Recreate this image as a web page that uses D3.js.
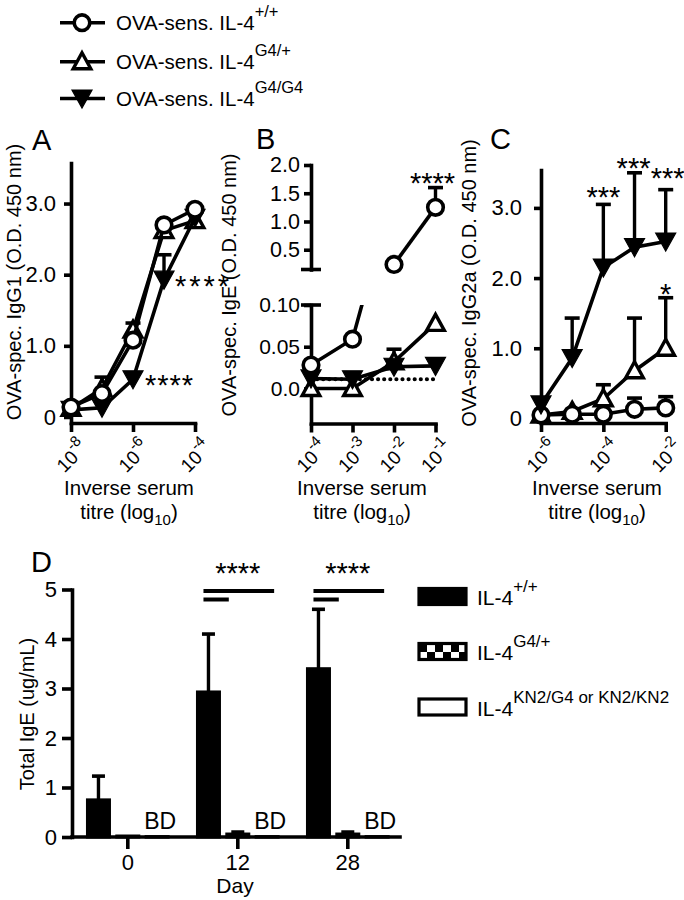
<!DOCTYPE html>
<html><head><meta charset="utf-8">
<script src="https://cdn.jsdelivr.net/npm/d3@7"></script>
<style>body{margin:0;background:#fff}svg{display:block}</style>
</head><body>
<script>
// ---------------- DATA ----------------
const genotypes = ["+/+", "G4/+", "G4/G4"];
const markerTypes = ["circle", "up", "down"];

// Panel A: OVA-specific IgG1, inverse serum titre exponents
const titreA = [-8, -7, -6, -5, -4];
const ticksA = [-8, -6, -4];
const igg1_WT = [0.14, 0.33, 1.08, 2.70, 2.92];
const igg1_WT_err = [null, null, null, null, null];
const igg1_Het = [0.12, 0.40, 1.22, 2.62, 2.76];
const igg1_Het_err = [null, 0.56, 1.32, null, null];
const igg1_Hom = [0.10, 0.13, 0.53, 1.93, 2.80];
const igg1_Hom_err = [null, null, null, 2.28, null];

// Panel B: OVA-specific IgE (broken axis)
const titreB = [-4, -3, -2, -1];
const ticksB = [-4, -3, -2, -1];
const ige_WT = [0.028, 0.059, 0.24, 1.25];
const ige_WT_err = [null, null, null, 1.60];
const ige_Het = [0.0, 0.0, 0.032, 0.078];
const ige_Het_err = [null, null, 0.047, null];
const ige_Hom = [0.012, 0.011, 0.026, 0.027];
const ige_Hom_err = [null, null, null, null];
const ige_background = 0.011;
const ticksBLow = [0, 0.05, 0.10];
const ticksBHigh = [0.5, 1.0, 1.5, 2.0];

// Panel C: OVA-specific IgG2a
const titreC = [-6, -5, -4, -3, -2];
const ticksC = [-6, -4, -2];
const igg2a_WT = [0.05, 0.06, 0.06, 0.13, 0.15];
const igg2a_WT_err = [null, null, null, 0.29, 0.31];
const igg2a_Het = [0.05, 0.10, 0.28, 0.68, 1.00];
const igg2a_Het_err = [null, null, 0.48, 1.43, 1.72];
const igg2a_Hom = [0.20, 0.86, 2.15, 2.44, 2.52];
const igg2a_Hom_err = [null, 1.43, 3.05, 3.50, 3.26];

// Panel D: total IgE
const days = ["0", "12", "28"];
const dSeries = ["+/+", "G4/+", "KN2"];
const dLegendSup = ["+/+", "G4/+", "KN2/G4 or KN2/KN2"];
const totalIgE_WT = [0.75, 2.93, 3.40];
const totalIgE_WT_err = [1.23, 4.10, 4.60];
const totalIgE_Het = [0.02, 0.06, 0.06];
const totalIgE_Het_err = [null, 0.10, 0.10];
const totalIgE_KO = [0.008, 0.008, 0.008];
const ticksD = [0, 1, 2, 3, 4, 5];

// ---------------- DRAWING ----------------
const W = 684, H = 900, SW = 3.6;
const FONT = '"Liberation Sans", Arial, Helvetica, sans-serif';
const svg = d3.select("body").append("svg").attr("width", W).attr("height", H)
  .attr("font-family", FONT).attr("fill", "#000");
svg.append("rect").attr("width", W).attr("height", H).attr("fill", "#fff");
const defs = svg.append("defs");

function drawMarker(g, type, x, y) {
  if (type === "circle") {
    g.append("circle").attr("cx", x).attr("cy", y).attr("r", 7.8)
      .attr("fill", "#fff").attr("stroke", "#000").attr("stroke-width", 3.6);
  } else if (type === "up") {
    g.append("path").attr("d", "M0,-9L8.8,7L-8.8,7Z")
      .attr("transform", `translate(${x},${y})`)
      .attr("fill", "#fff").attr("stroke", "#000").attr("stroke-width", 3.4);
  } else {
    g.append("path").attr("d", "M-10,-8.5L10,-8.5L0,9.5Z")
      .attr("transform", `translate(${x},${y})`)
      .attr("fill", "#000").attr("stroke", "#000").attr("stroke-width", 1.2);
  }
}

function drawSeries(g, xs, ys, errs, type, xS, yS, opt = {}) {
  const pts = xs.map((v, i) => ({ x: v, y: ys[i], e: errs ? errs[i] : null }));
  const show = opt.show || (() => true);
  const lp = opt.lineFilter ? pts.filter(opt.lineFilter) : pts;
  const lg = g.append("g");
  if (opt.clip) lg.attr("clip-path", `url(#${opt.clip})`);
  lg.append("path").datum(lp)
    .attr("d", d3.line().x(d => xS(d.x)).y(d => yS(d.y)))
    .attr("fill", "none").attr("stroke", "#000").attr("stroke-width", SW);
  pts.filter(d => d.e != null && show(d)).forEach(d => {
    g.append("line").attr("x1", xS(d.x)).attr("x2", xS(d.x))
      .attr("y1", yS(d.y)).attr("y2", yS(d.e)).attr("stroke", "#000").attr("stroke-width", 3.4);
    g.append("line").attr("x1", xS(d.x) - 7.5).attr("x2", xS(d.x) + 7.5)
      .attr("y1", yS(d.e)).attr("y2", yS(d.e)).attr("stroke", "#000").attr("stroke-width", 3.6);
  });
  pts.filter(show).forEach(d => drawMarker(g, type, xS(d.x), yS(d.y)));
}

function styleAxis(g, fs) {
  g.selectAll("path.domain").attr("stroke", "#000").attr("stroke-width", SW).attr("stroke-linecap", "square");
  g.selectAll(".tick line").attr("stroke", "#000").attr("stroke-width", SW);
  g.selectAll("text").attr("font-size", fs).attr("font-family", FONT).attr("fill", "#000");
}

function expLabels(g, xS, ticks, y0) {
  ticks.forEach(t => {
    const txt = g.append("g").attr("transform", `translate(${xS(t) + 18},${y0}) rotate(-45)`)
      .append("text").attr("text-anchor", "end").attr("font-size", 19);
    txt.append("tspan").text("10");
    txt.append("tspan").attr("font-size", 15).attr("dy", -10).text(String(t));
  });
}

function xTitle(cx) {
  svg.append("text").attr("x", cx).attr("y", 495).attr("text-anchor", "middle")
    .attr("font-size", 20.5).text("Inverse serum");
  const t = svg.append("text").attr("x", cx).attr("y", 519).attr("text-anchor", "middle").attr("font-size", 20.5);
  t.append("tspan").text("titre (log");
  t.append("tspan").attr("font-size", 15).attr("dy", 6).text("10");
  t.append("tspan").attr("dy", -6).text(")");
}

function yTitle(x, cy, label) {
  svg.append("text").attr("transform", `translate(${x},${cy}) rotate(-90)`)
    .attr("text-anchor", "middle").attr("font-size", 20).text(label);
}

function stars(x, y, s, anchor, ls) {
  svg.append("text").attr("x", x).attr("y", y).attr("text-anchor", anchor || "middle")
    .attr("font-size", 29).attr("letter-spacing", ls || 0).text(s);
}

// ---- Top legend ----
const legY = [22.7, 61.7, 98.5];
genotypes.forEach((s, i) => {
  const g = svg.append("g").attr("transform", `translate(0,${legY[i]})`);
  g.append("line").attr("x1", 60).attr("x2", 105).attr("y1", 0).attr("y2", 0)
    .attr("stroke", "#000").attr("stroke-width", SW);
  drawMarker(g, markerTypes[i], 82, 0);
  const t = g.append("text").attr("x", 116).attr("y", 7.5).attr("font-size", 20.5);
  t.append("tspan").text("OVA-sens. IL-4");
  t.append("tspan").attr("font-size", 16.5).attr("dy", -13).text(s);
});

// panel letters
[["A", 32, 150], ["B", 256, 149], ["C", 490, 149], ["D", 31, 572]].forEach(([l, x, y]) =>
  svg.append("text").attr("x", x).attr("y", y).attr("font-size", 29).text(l));

// ---- Panel A ----
{
  const x = d3.scaleLinear().domain([-8, -4]).range([71, 195]);
  const y = d3.scaleLinear().domain([-0.085, 3.57]).range([423, 163]);
  const g = svg.append("g");
  const ya = g.append("g").attr("transform", "translate(71,0)")
    .call(d3.axisLeft(y).tickValues([0, 1, 2, 3]).tickFormat(d => d === 0 ? "0" : d.toFixed(1))
      .tickSize(7).tickPadding(8).tickSizeOuter(0));
  styleAxis(ya, 22);
  const xa = g.append("g").attr("transform", "translate(0,423)")
    .call(d3.axisBottom(x).tickValues(ticksA).tickFormat("").tickSize(9).tickSizeOuter(0));
  styleAxis(xa, 18);
  expLabels(g, x, ticksA, 449);
  drawSeries(g, titreA, igg1_Het, igg1_Het_err, "up", x, y);
  drawSeries(g, titreA, igg1_Hom, igg1_Hom_err, "down", x, y);
  drawSeries(g, titreA, igg1_WT, igg1_WT_err, "circle", x, y);
  stars(x(-5) + 11, y(igg1_Hom[3]) + 16, "****", "start", 3);
  stars(x(-6) + 12, y(igg1_Hom[2]) + 16, "****", "start", 1);
  yTitle(21, 282, "OVA-spec. IgG1 (O.D. 450 nm)");
  xTitle(129);
}

// ---- Panel B ----
{
  const x = d3.scaleLinear().domain([-4, -1]).range([311, 435.5]);
  const yLo = d3.scaleLinear().domain([-0.042, 0.10]).range([423.5, 305]);
  const yHi = d3.scaleLinear().domain([0.15, 2.0]).range([269.5, 165]);
  const g = svg.append("g");
  defs.append("clipPath").attr("id", "clipBlo").append("rect")
    .attr("x", 280).attr("y", 305).attr("width", 180).attr("height", 130);
  const yl = g.append("g").attr("transform", "translate(311,0)")
    .call(d3.axisLeft(yLo).tickValues(ticksBLow).tickFormat(d => d === 0 ? "0.0" : d.toFixed(2))
      .tickSize(7).tickPadding(4).tickSizeOuter(0));
  styleAxis(yl, 21);
  const yh = g.append("g").attr("transform", "translate(311,0)")
    .call(d3.axisLeft(yHi).tickValues(ticksBHigh).tickFormat(d3.format(".1f"))
      .tickSize(7).tickPadding(4).tickSizeOuter(0));
  styleAxis(yh, 21.5);
  [yLo(0.10), yHi(0.15)].forEach(yy =>
    g.append("line").attr("x1", 301).attr("x2", 321).attr("y1", yy).attr("y2", yy)
      .attr("stroke", "#000").attr("stroke-width", SW));
  const xa = g.append("g").attr("transform", "translate(0,423.5)")
    .call(d3.axisBottom(x).tickValues(ticksB).tickFormat("").tickSize(9).tickSizeOuter(0));
  styleAxis(xa, 18);
  expLabels(g, x, ticksB, 449);
  g.append("path").datum([titreB[0], titreB[titreB.length - 1]])
    .attr("d", d3.line().x(d => x(d)).y(() => yLo(ige_background)))
    .attr("stroke", "#000").attr("stroke-width", 4.2).attr("stroke-linecap", "round")
    .attr("stroke-dasharray", "0,6.1").attr("fill", "none");
  const lo = { clip: "clipBlo", show: d => d.y <= 0.10 };
  drawSeries(g, titreB, ige_Het, ige_Het_err, "up", x, yLo, lo);
  drawSeries(g, titreB, ige_Hom, ige_Hom_err, "down", x, yLo, lo);
  drawSeries(g, titreB, ige_WT, ige_WT_err, "circle", x, yLo, lo);
  drawSeries(g, titreB, ige_WT, ige_WT_err, "circle", x, yHi,
    { show: d => d.y >= 0.15, lineFilter: d => d.y >= 0.15 });
  stars(x(-1) - 3, yHi(ige_WT_err[3]) + 5, "****");
  yTitle(236, 285, "OVA-spec. IgE (O.D. 450 nm)");
  xTitle(362);
}

// ---- Panel C ----
{
  const x = d3.scaleLinear().domain([-6, -2]).range([541, 665.7]);
  const y = d3.scaleLinear().domain([-0.065, 3.54]).range([423, 170]);
  const g = svg.append("g");
  const ya = g.append("g").attr("transform", "translate(541,0)")
    .call(d3.axisLeft(y).tickValues([0, 1, 2, 3]).tickFormat(d => d === 0 ? "0" : d.toFixed(1))
      .tickSize(7).tickPadding(12).tickSizeOuter(0));
  styleAxis(ya, 22);
  const xa = g.append("g").attr("transform", "translate(0,423)")
    .call(d3.axisBottom(x).tickValues(ticksC).tickFormat("").tickSize(9).tickSizeOuter(0));
  styleAxis(xa, 18);
  expLabels(g, x, ticksC, 449);
  drawSeries(g, titreC, igg2a_Het, igg2a_Het_err, "up", x, y);
  drawSeries(g, titreC, igg2a_WT, igg2a_WT_err, "circle", x, y);
  drawSeries(g, titreC, igg2a_Hom, igg2a_Hom_err, "down", x, y);
  stars(x(-4), y(igg2a_Hom_err[2]) + 3, "***");
  stars(x(-3) - 1, y(igg2a_Hom_err[3]) + 5, "***");
  stars(x(-2) + 2, y(igg2a_Hom_err[4]) - 2, "***");
  stars(x(-2), y(igg2a_Het_err[4]) + 6, "*");
  yTitle(476, 283, "OVA-spec. IgG2a (O.D. 450 nm)");
  xTitle(597);
}

// ---- Panel D ----
{
  const x0 = d3.scaleBand().domain(days).range([72.8, 402.8]);
  const x1 = d3.scaleBand().domain(dSeries).range([0, x0.bandwidth()]).paddingInner(0.25).paddingOuter(0.5);
  const y = d3.scaleLinear().domain([0, 5]).range([837, 589.5]);
  const g = svg.append("g");
  const pat = defs.append("pattern").attr("id", "checker").attr("patternUnits", "userSpaceOnUse")
    .attr("width", 14).attr("height", 14).attr("x", 420).attr("y", 590);
  pat.append("rect").attr("width", 14).attr("height", 14).attr("fill", "#000");
  pat.append("rect").attr("x", 7).attr("y", 0).attr("width", 7).attr("height", 7).attr("fill", "#fff");
  pat.append("rect").attr("x", 0).attr("y", 7).attr("width", 7).attr("height", 7).attr("fill", "#fff");

  const fills = ["#000", "url(#checker)", "#fff"];
  const vals = [totalIgE_WT, totalIgE_Het, totalIgE_KO];
  const errs = [totalIgE_WT_err, totalIgE_Het_err, [null, null, null]];
  dSeries.forEach((s, si) => {
    days.forEach((d, di) => {
      const v = vals[si][di];
      const cx = x0(d) + x1(s) + x1.bandwidth() / 2;
      const e = errs[si][di];
      if (e != null) {
        g.append("line").attr("x1", cx).attr("x2", cx).attr("y1", y(v)).attr("y2", y(e))
          .attr("stroke", "#000").attr("stroke-width", 3.4);
        g.append("line").attr("x1", cx - 6.5).attr("x2", cx + 6.5).attr("y1", y(e)).attr("y2", y(e))
          .attr("stroke", "#000").attr("stroke-width", 3.6);
      }
      g.append("rect").attr("x", x0(d) + x1(s)).attr("width", x1.bandwidth())
        .attr("y", y(v)).attr("height", Math.max(0.5, y(0) - y(v)))
        .attr("fill", fills[si]).attr("stroke", "#000").attr("stroke-width", 3);
    });
  });
  days.forEach(d => {
    g.append("text").attr("x", x0(d) + x1("KN2") + x1.bandwidth() / 2 + 3).attr("y", 829)
      .attr("text-anchor", "middle").attr("font-size", 23).text("BD");
  });
  const ya = g.append("g").attr("transform", "translate(72,0)")
    .call(d3.axisLeft(y).tickValues(ticksD).tickFormat(d3.format("d")).tickSize(10).tickPadding(5).tickSizeOuter(0));
  styleAxis(ya, 22);
  const xa = g.append("g").attr("transform", "translate(0,837)")
    .call(d3.axisBottom(x0).tickSize(12).tickPadding(5).tickSizeOuter(0));
  styleAxis(xa, 22);
  xa.select("path.domain").attr("d", `M72,0H400`);
  ["12", "28"].forEach(d => {
    const xs = x0(d) + x1("+/+") + 6;
    const xe1 = x0(d) + x1("KN2") + x1.bandwidth() - 4;
    const xe2 = x0(d) + x1("G4/+") + 2;
    g.append("line").attr("x1", xs).attr("x2", xe1).attr("y1", 591).attr("y2", 591)
      .attr("stroke", "#000").attr("stroke-width", 4);
    g.append("line").attr("x1", xs).attr("x2", xe2).attr("y1", 599.5).attr("y2", 599.5)
      .attr("stroke", "#000").attr("stroke-width", 4);
    stars(x0(d) + x0.bandwidth() / 2, 583, "****");
  });
  svg.append("text").attr("x", 235).attr("y", 893).attr("text-anchor", "middle").attr("font-size", 21).text("Day");
  yTitle(34, 714, "Total IgE (ug/mL)");
  const ly = [588.5, 643.5, 699];
  const ty = [605, 660, 716];
  dSeries.forEach((s, i) => {
    let fill = fills[i];
    if (i === 1) {
      const pid = "checkerL";
      const p = defs.append("pattern").attr("id", pid).attr("patternUnits", "userSpaceOnUse")
        .attr("width", 16).attr("height", 16).attr("x", 419).attr("y", ly[i] + 1.5);
      p.append("rect").attr("width", 16).attr("height", 16).attr("fill", "#000");
      p.append("rect").attr("x", 8).attr("width", 8).attr("height", 7).attr("fill", "#fff");
      p.append("rect").attr("y", 7).attr("width", 8).attr("height", 7).attr("fill", "#fff");
      fill = `url(#${pid})`;
    }
    svg.append("rect").attr("x", 419).attr("y", ly[i]).attr("width", 47).attr("height", 16)
      .attr("fill", fill).attr("stroke", "#000").attr("stroke-width", 3.2);
    const t = svg.append("text").attr("x", 477).attr("y", ty[i]).attr("font-size", 21);
    t.append("tspan").text("IL-4");
    t.append("tspan").attr("font-size", 17).attr("dy", -13).text(dLegendSup[i]);
  });
}
</script>
</body></html>
